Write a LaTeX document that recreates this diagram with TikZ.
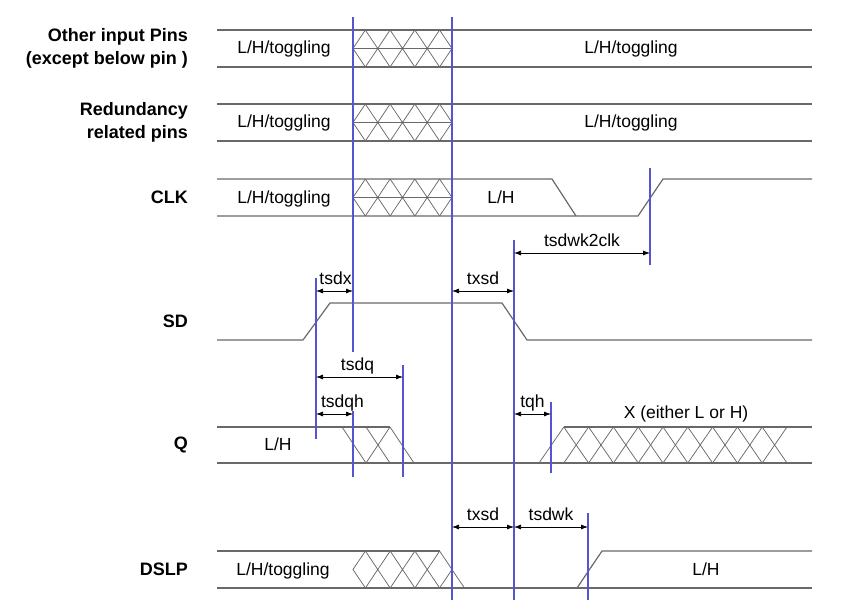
\documentclass[tikz,border=0pt]{standalone}
\usepackage{fontspec}
\setmainfont{Liberation Sans}
\usetikzlibrary{arrows.meta,positioning}
\definecolor{wave}{RGB}{105,105,105}
\definecolor{guideblue}{RGB}{85,85,210}
\newcommand{\pinfont}{\fontsize{18}{23}\selectfont\bfseries}
\newcommand{\valfont}{\fontsize{17.5}{20}\selectfont}
% crossed bus block between the two first markers, with its centre line
\newcommand{\xblock}[2]{%
  \begin{scope}
    \clip (353,#1) rectangle (452,#2);
    \foreach \x in {340.6,365.35,390.1,414.85,439.6}
      \draw[hatch] (\x,#1) -- ++(24.75,#2-#1) (\x,#2) -- ++(24.75,#1-#2);
  \end{scope}
  \draw[hatch] (353,{(#1+#2)/2}) -- (452,{(#1+#2)/2});}

\begin{document}
\begin{tikzpicture}[x=1pt,y=-1pt,
      sig/.style={draw=wave,line width=1.2pt},
      hatch/.style={draw=wave,line width=0.75pt},
      guide/.style={draw=guideblue,line width=1.1pt},
      dim/.style={{Latex[length=7pt,width=5pt]}-{Latex[length=7pt,width=5pt]},line width=0.75pt,black},
      pin/.style={font=\pinfont,anchor=east,align=right,inner sep=0pt},
      val/.style={font=\valfont,text height=12.5pt,text depth=3.5pt,inner sep=0pt},
      tlbl/.style={font=\valfont,above=2.5pt,text depth=3.5pt,inner sep=0pt}
    ]
      \useasboundingbox (0,0) rectangle (851,615);
      % pin names
      \node[pin] (other) at (188,48.5) {Other input Pins\\(except below pin )};
      \node[pin] (redund) at (188,122.5) {Redundancy\\related pins};
      \node[pin] (clk) at (188,197.5) {CLK};
      \node[pin] (sd) at (188,321.5) {SD};
      \node[pin] (q) at (188,445) {Q};
      \node[pin] (dslp) at (188,569.5) {DSLP};

      % other input pins
      \draw[sig] (217,30) -- (812,30) (217,67) -- (812,67);
      \xblock{30}{67}
      \node[val] (otherA) at (284,49.5) {L/H/toggling};
      \node[val] (otherB) at (631,49.5) {L/H/toggling};

      % redundancy related pins
      \draw[sig] (217,104) -- (812,104) (217,141) -- (812,141);
      \xblock{104}{141}
      \node[val] (redundA) at (284,123.5) {L/H/toggling};
      \node[val] (redundB) at (631,123.5) {L/H/toggling};

      % CLK
      \draw[sig] (217,179) -- (552,179) -- (576,216);
      \draw[sig] (217,216) -- (638,216) -- (663,179) -- (812,179);
      \xblock{179}{216}
      \node[val] (clkA) at (284,198.5) {L/H/toggling};
      \node[val] (clkB) at (501,198.5) {L/H};

      % SD
      \draw[sig] (217,340) -- (303,340) -- (330,303) -- (502,303) -- (527,340) -- (812,340);

      % Q
      \draw[sig] (217,463) -- (812,463);
      \draw[sig] (217,427) -- (390,427);
      \draw[hatch] (342,427) -- (366,463) (366,427) -- (390,463)
                   (390,427) -- (414,463) (366,463) -- (390,427);
      \draw[sig] (563.8,427) -- (812,427);
      \foreach \x in {539,563.8,...,787}
        \draw[hatch] (\x,463) -- ++(24.8,-36);
      \foreach \x in {563.8,588.6,...,787}
        \draw[hatch] (\x,427) -- ++(24.8,36);
      \node[val] (qA) at (278,446) {L/H};
      \node[val] (qB) at (686,414) {X (either L or H)};

      % DSLP
      \draw[sig] (217,588) -- (812,588);
      \draw[sig] (217,551) -- (439.6,551);
      \draw[hatch] (353,569.5) -- (365.4,551) (353,569.5) -- (365.4,588);
      \foreach \x in {365.4,390.15,414.9}
        \draw[hatch] (\x,551) -- ++(24.75,37) (\x,588) -- ++(24.75,-37);
      \draw[hatch] (439.6,551) -- (464.4,588) (439.6,588) -- (452,569.5);
      \draw[sig] (577,588) -- (602,551) -- (812,551);
      \node[val] (dslpA) at (283,570.5) {L/H/toggling};
      \node[val] (dslpB) at (706,570.5) {L/H};

      % markers
      \draw[guide] (353,17) -- (353,352);
      \draw[guide] (353,411) -- (353,477);
      \draw[guide] (452,17) -- (452,600);
      \draw[guide] (514,240) -- (514,600);
      \draw[guide] (650,168) -- (650,265);
      \draw[guide] (316,278) -- (316,439);
      \draw[guide] (403,365) -- (403,477);
      \draw[guide] (551,402) -- (551,473);
      \draw[guide] (588,513) -- (588,600);

      % timing arrows
      \coordinate (sdxL) at (316,291);   \coordinate (sdxR) at (353,291);
      \coordinate (xsdL) at (452,291);   \coordinate (xsdR) at (514,291);
      \coordinate (wkcL) at (514,253);   \coordinate (wkcR) at (650,253);
      \coordinate (sdqL) at (316,377);   \coordinate (sdqR) at (403,377);
      \coordinate (sdqhL) at (316,414);  \coordinate (sdqhR) at (353,414);
      \coordinate (qhL) at (514,414);    \coordinate (qhR) at (551,414);
      \coordinate (xsdbL) at (452,527);  \coordinate (xsdbR) at (514,527);
      \coordinate (wkL) at (514,527);    \coordinate (wkR) at (588,527);
      \draw[dim] (sdxL) -- node[tlbl,xshift=1pt] {tsdx} (sdxR);
      \draw[dim] (xsdL) -- node[tlbl] {txsd} (xsdR);
      \draw[dim] (wkcL) -- node[tlbl] {tsdwk2clk} (wkcR);
      \draw[dim] (sdqL) -- node[tlbl,xshift=-2pt] {tsdq} (sdqR);
      \draw[dim] (sdqhL) -- node[tlbl,xshift=8pt] {tsdqh} (sdqhR);
      \draw[dim] (qhL) -- node[tlbl] {tqh} (qhR);
      \draw[dim] (xsdbL) -- node[tlbl] {txsd} (xsdbR);
      \draw[dim] (wkL) -- node[tlbl] {tsdwk} (wkR);
    \end{tikzpicture}
\end{document}
